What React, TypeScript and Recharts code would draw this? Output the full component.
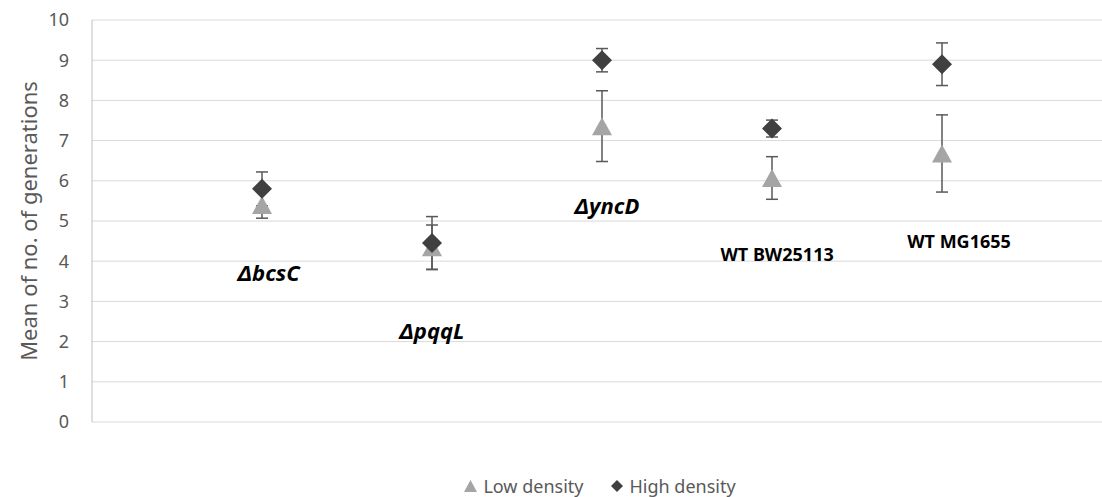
import React from 'react'
import { ScatterChart, Scatter, XAxis, YAxis, CartesianGrid, ErrorBar, Legend } from 'recharts'

const categories = ['ΔbcsC', 'ΔpqqL', 'ΔyncD', 'WT BW25113', 'WT MG1655']
const xPos = [1, 2, 3, 4, 5]
const lowDensity = [5.4, 4.35, 7.36, 6.07, 6.68]
const lowErr = [0.33, 0.55, 0.88, 0.53, 0.96]
const highDensity = [5.8, 4.45, 9.0, 7.3, 8.9]
const highErr = [0.42, 0.66, 0.29, 0.21, 0.53]
// where the strain names sit (data units)
const labelX = [1.04, 2.0, 3.03, 4.03, 5.1]
const labelY = [3.74, 2.29, 5.39, 4.19, 4.51]
const yTicks = [0, 1, 2, 3, 4, 5, 6, 7, 8, 9, 10]
const seriesNames = ['Low density', 'High density']

const lowData = xPos.map((x, i) => ({ x, y: lowDensity[i], err: lowErr[i] }))
const highData = xPos.map((x, i) => ({ x, y: highDensity[i], err: highErr[i] }))
const labelData = labelX.map((x, i) => ({ x, y: labelY[i], name: categories[i] }))

const FONT = '"Noto Sans", sans-serif'

const Triangle = (p: any) => (
  <path d={`M${p.cx},${p.cy - 9}L${p.cx + 10},${p.cy + 9}L${p.cx - 10},${p.cy + 9}Z`} fill="#a5a5a5" />
)

const Diamond = (p: any) => (
  <path d={`M${p.cx},${p.cy - 10}L${p.cx + 10},${p.cy}L${p.cx},${p.cy + 10}L${p.cx - 10},${p.cy}Z`} fill="#404040" />
)

const NameLabel = (p: any) => {
  const name: string = p.payload.name
  const mutant = name.startsWith('Δ')
  return (
    <text
      x={p.cx}
      y={p.cy}
      textAnchor="middle"
      dominantBaseline="central"
      fontFamily={FONT}
      fontWeight="bold"
      fontStyle={mutant ? 'italic' : 'normal'}
      fontSize={mutant ? 22 : 18}
      fill="#000"
    >
      {name}
    </text>
  )
}

const LegendBox = () => (
  <div style={{ display: 'flex', justifyContent: 'center', alignItems: 'center', gap: 28, fontFamily: FONT, fontSize: 18, color: '#595959' }}>
    <span style={{ display: 'flex', alignItems: 'center', gap: 6 }}>
      <svg width={13} height={12}><path d="M6.5,0L13,12L0,12Z" fill="#a5a5a5" /></svg>
      {seriesNames[0]}
    </span>
    <span style={{ display: 'flex', alignItems: 'center', gap: 6 }}>
      <svg width={12} height={12}><path d="M6,0L12,6L6,12L0,6Z" fill="#404040" /></svg>
      {seriesNames[1]}
    </span>
  </div>
)

export default function App() {
  return (
    <div style={{ position: 'absolute', left: 0, top: 0, width: 1102, height: 497, overflow: 'hidden', background: '#fff' }}>
      <ScatterChart width={1112} height={497} margin={{ top: 20, right: 0, bottom: 49, left: 0 }}>
        <CartesianGrid horizontal vertical={false} stroke="#d9d9d9" />
        <XAxis type="number" dataKey="x" domain={[0, 6]} hide />
        <YAxis
          type="number"
          dataKey="y"
          domain={[0, 10]}
          ticks={yTicks}
          width={92}
          tickLine={false}
          tickMargin={17}
          axisLine={{ stroke: '#bfbfbf' }}
          tick={{ fill: '#595959', fontSize: 18, fontFamily: FONT }}
          label={{
            value: 'Mean of no. of generations',
            angle: -90,
            position: 'insideLeft',
            offset: 24,
            dx: 5,
            style: { textAnchor: 'middle', fill: '#595959', fontSize: 22, fontFamily: FONT },
          }}
        />
        <Scatter name={seriesNames[0]} data={lowData} shape={Triangle} fill="#a5a5a5" isAnimationActive={false}>
          <ErrorBar dataKey="err" direction="y" width={6} stroke="#595959" strokeWidth={1.5} />
        </Scatter>
        <Scatter name={seriesNames[1]} data={highData} shape={Diamond} fill="#404040" isAnimationActive={false}>
          <ErrorBar dataKey="err" direction="y" width={6} stroke="#595959" strokeWidth={1.5} />
        </Scatter>
        <Scatter name="labels" data={labelData} shape={NameLabel} legendType="none" isAnimationActive={false} />
        <Legend
          content={<LegendBox />}
          wrapperStyle={{ position: 'absolute', top: 474, left: 0, width: 1200, height: 26 }}
        />
      </ScatterChart>
    </div>
  )
}
